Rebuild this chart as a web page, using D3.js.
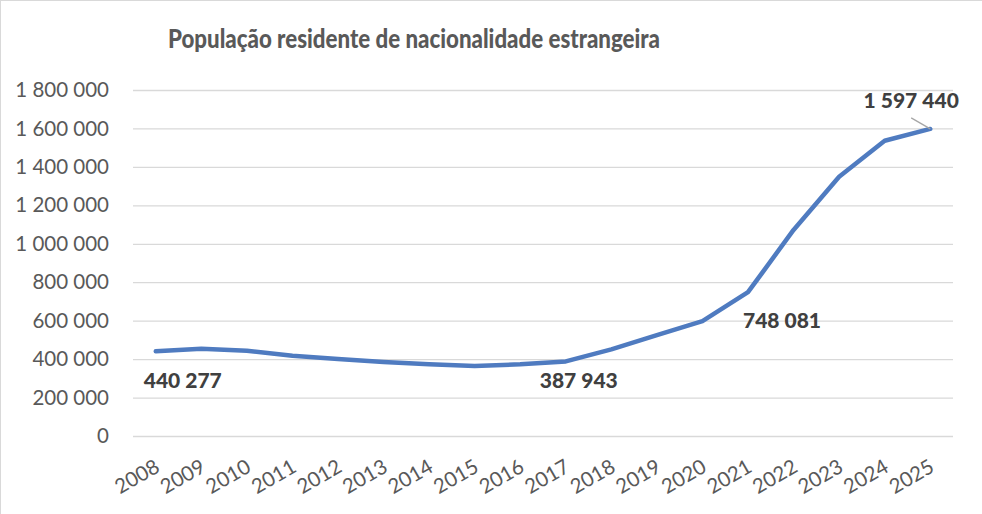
<!DOCTYPE html>
<html>
<head>
<meta charset="utf-8">
<script src="https://cdn.jsdelivr.net/npm/d3@7"></script>
<style>
  body { margin: 0; background: #fff; }
  text { font-family: Lato, "Open Sans", sans-serif; }
</style>
</head>
<body>
<div id="chart"></div>
<script>
const width = 982;
const height = 514;

// data
const years = ['2008', '2009', '2010', '2011', '2012', '2013', '2014', '2015', '2016',
  '2017', '2018', '2019', '2020', '2021', '2022', '2023', '2024', '2025'];
const residents = [440277, 454000, 444000, 418000, 400000, 385000, 373000, 364000, 373000,
  387943, 451000, 525000, 598000, 748081, 1072000, 1349000, 1536000, 1597440];
const yTicks = [0, 200000, 400000, 600000, 800000, 1000000, 1200000, 1400000, 1600000, 1800000];
const labelledYears = ['2008', '2017', '2021', '2025'];
const title = 'População residente de nacionalidade estrangeira';

const plot = { left: 133, right: 953, top: 90, bottom: 436 };

const fmt = v => d3.format(',')(v).replace(/,/g, ' ');

const svg = d3.select('#chart')
  .append('svg')
  .attr('width', width)
  .attr('height', height);

// chart frame (only top/left edges show in the picture)
svg.append('rect')
  .attr('x', 0.5).attr('y', 0.5)
  .attr('width', width + 10).attr('height', height + 10)
  .attr('fill', 'none')
  .attr('stroke', '#d9d9d9');

const x = d3.scalePoint()
  .domain(years)
  .range([plot.left, plot.right])
  .padding(0.5);

const y = d3.scaleLinear()
  .domain([0, 1800000])
  .range([plot.bottom, plot.top]);

// Y axis + gridlines
const yAxis = d3.axisLeft(y)
  .tickValues(yTicks)
  .tickFormat(fmt)
  .tickSize(-(plot.right - plot.left))
  .tickPadding(24);

const yg = svg.append('g')
  .attr('transform', `translate(${plot.left},0)`)
  .call(yAxis);
yg.select('.domain').remove();
yg.selectAll('.tick line')
  .attr('stroke', '#d9d9d9')
  .attr('stroke-width', 1.3);
yg.selectAll('.tick text')
  .attr('fill', '#595959')
  .style('font-size', '20.5px');

// X labels, rotated
svg.append('g')
  .selectAll('text')
  .data(years)
  .join('text')
  .attr('transform', d => `translate(${x(d) - 2},458) rotate(-30)`)
  .attr('text-anchor', 'end')
  .attr('dy', '0.72em')
  .attr('fill', '#595959')
  .style('font-size', '20.5px')
  .text(d => d);

// the line
const line = d3.line()
  .x((d, i) => x(years[i]))
  .y(d => y(d));

svg.append('path')
  .datum(residents)
  .attr('d', line)
  .attr('fill', 'none')
  .attr('stroke', '#4f7bc0')
  .attr('stroke-width', 4.5)
  .attr('stroke-linecap', 'round')
  .attr('stroke-linejoin', 'round');

// data labels (offsets taken from where Excel placed them)
const labelOffset = {
  '2008': [27, 28],
  '2017': [13, 18],
  '2021': [34, 27],
  '2025': [-19, -29]
};

// leader line for the last label
const last = years[years.length - 1];
svg.append('line')
  .attr('x1', x(last) - 19)
  .attr('y1', y(residents[years.length - 1]) - 11)
  .attr('x2', x(last))
  .attr('y2', y(residents[years.length - 1]))
  .attr('stroke', '#a6a6a6')
  .attr('stroke-width', 1.3);

svg.append('g')
  .selectAll('text')
  .data(labelledYears)
  .join('text')
  .attr('x', d => x(d) + labelOffset[d][0])
  .attr('y', d => y(residents[years.indexOf(d)]) + labelOffset[d][1])
  .attr('text-anchor', 'middle')
  .attr('dominant-baseline', 'central')
  .attr('fill', '#404040')
  .style('font-size', '21px')
  .style('font-weight', 900)
  .text(d => fmt(residents[years.indexOf(d)]));

// title
svg.append('text')
  .attr('x', 414)
  .attr('y', 48)
  .attr('text-anchor', 'middle')
  .attr('fill', '#595959')
  .attr('textLength', 492)
  .attr('lengthAdjust', 'spacingAndGlyphs')
  .style('font-size', '27px')
  .style('font-weight', 900)
  .text(title);
</script>
</body>
</html>
